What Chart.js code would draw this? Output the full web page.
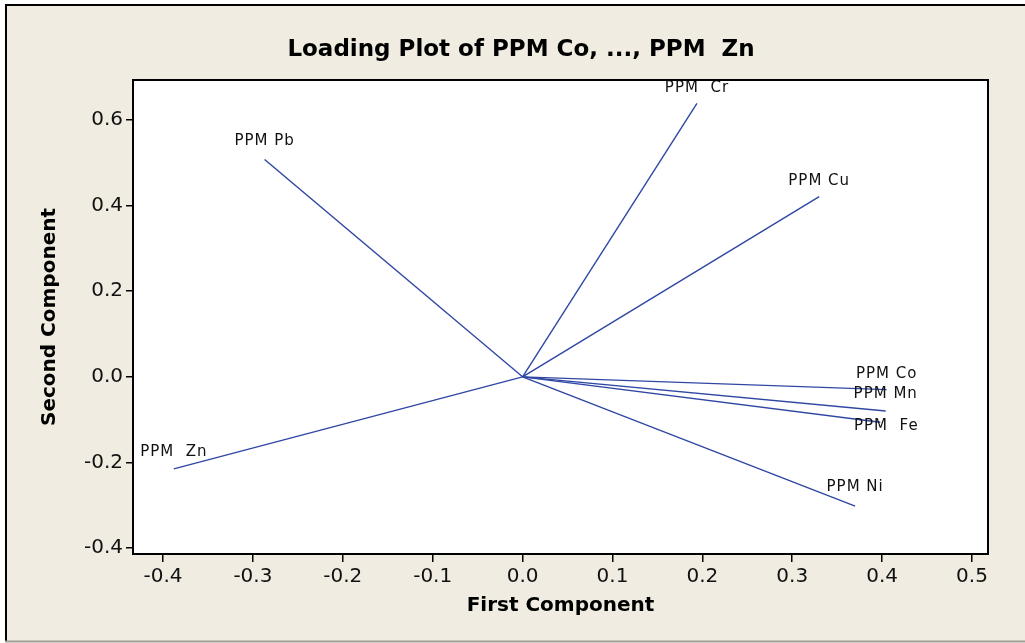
<!DOCTYPE html>
<html>
<head>
<meta charset="utf-8">
<script src="https://cdn.jsdelivr.net/npm/chart.js@4/dist/chart.umd.min.js"></script>
<style>
  html, body { margin: 0; padding: 0; background: #fff; }
  #wrap { width: 1025px; height: 643px; }
</style>
</head>
<body>
<div id="wrap"><canvas id="loading"></canvas></div>
<script>
// loadings
const variables = ['PPM Co', 'PPM Mn', 'PPM  Fe', 'PPM Ni', 'PPM  Zn', 'PPM Pb', 'PPM  Cr', 'PPM Cu'];
const firstComp = [0.405, 0.404, 0.398, 0.370, -0.388, -0.287, 0.194, 0.330];
const secondComp = [-0.030, -0.080, -0.106, -0.302, -0.215, 0.508, 0.639, 0.421];
const xTicks = [-0.4, -0.3, -0.2, -0.1, 0.0, 0.1, 0.2, 0.3, 0.4, 0.5];
const yTicks = [-0.4, -0.2, 0.0, 0.2, 0.4, 0.6];

// label sits above the end of its line, except Fe which Minitab pushed below
const labelDy = [-15, -16, -4, -18, -16, -18, -15, -15];

const lineColor = '#2f47a3';
const font = '"DejaVu Sans", Verdana, sans-serif';

const datasets = variables.map((v, i) => ({
  label: v,
  data: [{ x: 0, y: 0 }, { x: firstComp[i], y: secondComp[i] }],
  borderColor: lineColor,
  borderWidth: 1.4,
  pointRadius: 0,
  showLine: true,
  fill: false
}));

const frame = {
  id: 'frame',
  beforeDraw(chart) {
    const ctx = chart.ctx;
    ctx.save();
    ctx.fillStyle = '#fff';
    ctx.fillRect(0, 0, chart.width, chart.height);
    ctx.fillStyle = '#f0ece1';
    ctx.fillRect(5, 4, chart.width - 5, 637);
    ctx.strokeStyle = '#000';
    ctx.lineWidth = 2;
    ctx.beginPath();
    ctx.moveTo(6, 642); ctx.lineTo(6, 5); ctx.lineTo(chart.width, 5);
    ctx.stroke();
    ctx.strokeStyle = '#a09c94';
    ctx.beginPath();
    ctx.moveTo(5, 641.5); ctx.lineTo(chart.width, 641.5);
    ctx.stroke();
    const a = chart.chartArea;
    ctx.fillStyle = '#fff';
    ctx.fillRect(a.left, a.top, a.right - a.left, a.bottom - a.top);
    // title
    ctx.fillStyle = '#000';
    ctx.font = 'bold 23px ' + font;
    ctx.textAlign = 'center';
    ctx.textBaseline = 'middle';
    ctx.fillText('Loading Plot of PPM Co, ..., PPM  Zn', 521, 50);
    ctx.restore();
  },
  afterDatasetsDraw(chart) {
    const ctx = chart.ctx;
    const xs = chart.scales.x, ys = chart.scales.y;
    const a = chart.chartArea;
    ctx.save();
    ctx.fillStyle = '#111';
    ctx.font = '15px ' + font;
    ctx.letterSpacing = '1px';
    ctx.textAlign = 'center';
    ctx.textBaseline = 'bottom';
    variables.forEach((v, i) => {
      const px = xs.getPixelForValue(firstComp[i]);
      const py = ys.getPixelForValue(secondComp[i]);
      if (labelDy[i] > -10) {
        ctx.textBaseline = 'top';
        ctx.fillText(v, px + 6, py + labelDy[i]);
        ctx.textBaseline = 'bottom';
      } else {
        ctx.fillText(v, px, py + labelDy[i] + 7);
      }
    });
    ctx.letterSpacing = '0px';
    ctx.strokeStyle = '#000';
    ctx.lineWidth = 2;
    ctx.strokeRect(a.left, a.top, a.right - a.left, a.bottom - a.top);
    ctx.restore();
  }
};

new Chart(document.getElementById('loading'), {
  type: 'scatter',
  data: { datasets },
  options: {
    responsive: true,
    maintainAspectRatio: false,
    animation: false,
    layout: { padding: { left: 0, right: 37, top: 80, bottom: 0 } },
    plugins: { legend: { display: false }, tooltip: { enabled: false } },
    scales: {
      x: {
        type: 'linear',
        min: -0.4334,
        max: 0.5178,
        afterBuildTicks: s => { s.ticks = xTicks.map(v => ({ value: v })); },
        afterFit: s => { s.height = 89; },
        grid: { drawOnChartArea: false, drawTicks: true, tickLength: 8, color: '#000', lineWidth: 1.5 },
        border: { display: true, color: '#000', width: 2 },
        ticks: {
          color: '#111',
          font: { family: font, size: 20 },
          padding: 3,
          maxRotation: 0,
          autoSkip: false,
          callback: v => v.toFixed(1)
        },
        title: {
          display: true,
          text: 'First Component',
          color: '#000',
          font: { family: font, size: 20, weight: 'bold' },
          padding: { top: 0, bottom: 25 }
        }
      },
      y: {
        type: 'linear',
        min: -0.414,
        max: 0.6936,
        afterBuildTicks: s => { s.ticks = yTicks.map(v => ({ value: v })); },
        afterFit: s => { s.width = 133; },
        grid: { drawOnChartArea: false, drawTicks: true, tickLength: 7, color: '#000', lineWidth: 1.5 },
        border: { display: true, color: '#000', width: 2 },
        ticks: {
          color: '#111',
          font: { family: font, size: 20 },
          padding: 3,
          autoSkip: false,
          callback: v => v.toFixed(1)
        },
        title: {
          display: true,
          text: 'Second Component',
          color: '#000',
          font: { family: font, size: 20, weight: 'bold' },
          padding: { top: 38, bottom: 0 }
        }
      }
    }
  },
  plugins: [frame]
});
</script>
</body>
</html>
